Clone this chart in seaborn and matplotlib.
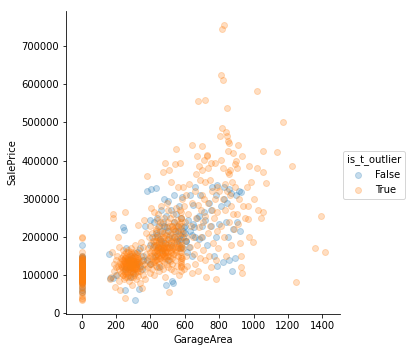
import matplotlib
matplotlib.use("Agg")
import matplotlib.pyplot as plt
from matplotlib.lines import Line2D
import pandas as pd
import seaborn as sns

# ---- data (GarageArea, SalePrice) ----
garage_true = [
    0, 0, 0, 0, 0, 0, 0, 0, 0, 0,
    0, 0, 0, 0, 0, 0, 0, 0, 0, 0,
    0, 0, 0, 0, 0, 0, 0, 0, 0, 0,
    0, 0, 0, 0, 0, 0, 0, 0, 0, 0,
    0, 0, 0, 0, 0, 0, 0, 0,
    165, 170, 178, 182, 184, 188, 190, 195, 198, 200,
    205, 208, 210, 212, 215, 218, 220, 222, 225, 228,
    230, 232, 235, 238, 240, 240, 240, 242, 245, 248,
    250, 250, 252, 252, 253, 255, 258, 260, 260, 262,
    264, 265, 268, 270, 270, 272, 275, 276, 278, 280,
    280, 282, 284, 285, 286, 288, 288, 290, 292, 294,
    295, 296, 298, 300, 300, 302, 304, 305, 308, 310,
    312, 314, 315, 318, 320, 322, 325, 326, 328, 330,
    332, 335, 338, 340, 342, 345, 348, 350, 352, 355,
    358, 360, 362, 365, 368, 370, 372, 375, 378, 380,
    385, 388, 390, 392, 395, 398, 400, 400, 402, 405,
    408, 410, 412, 415, 418, 420, 420, 422, 425, 428,
    430, 432, 434, 436, 438, 440, 440, 440, 440, 442,
    445, 446, 448, 450, 452, 454, 455, 458, 460, 460,
    462, 464, 465, 468, 470, 472, 474, 475, 476, 478,
    480, 480, 480, 482, 484, 485, 486, 488, 490, 492,
    494, 495, 496, 498, 500, 500, 502, 504, 505, 508,
    510, 510, 512, 514, 515, 518, 520, 520, 522, 525,
    526, 528, 528, 530, 532, 535, 536, 538, 540, 542,
    544, 545, 548, 550, 550, 552, 555, 556, 558, 560,
    562, 564, 565, 568, 570, 572, 574, 576, 576, 576,
    576, 576, 576, 576, 576, 576, 578, 580, 582, 585,
    588, 590, 592, 595, 598, 600, 602, 605, 608, 610,
    615, 620, 625, 630, 635, 640, 642, 645, 650, 655,
    660, 662, 665, 668, 670, 673, 675, 675, 678, 680,
    684, 686, 690, 692, 695, 698, 700, 703, 705, 708,
    711, 712, 715, 716, 718, 720, 725, 728, 731, 733,
    735, 738, 740, 745, 748, 750, 755, 758, 760, 765,
    770, 775, 778, 779, 782, 785, 788, 790, 795, 800,
    805, 808, 808, 810, 814, 816, 820, 822, 825, 828,
    831, 832, 835, 838, 840, 844, 845, 848, 850, 852,
    853, 855, 858, 860, 862, 865, 868, 870, 875, 880,
    885, 890, 895, 900, 902, 905, 907, 910, 915, 920,
    926, 930, 935, 935, 940, 948, 966, 967, 973, 975,
    985, 996, 1018, 1023, 1025, 1042, 1053, 1055, 1055, 1072,
    1135, 1169, 1224, 1248, 1355, 1390, 1418, 1000, 960, 880,
    # dense cores
    0, 0, 0, 0, 0, 0, 0, 0, 0, 0,
    0, 0, 0, 0, 0, 0, 0, 0, 0, 0,
    0, 0, 0, 0, 0, 0, 0, 0, 0, 0,
    0, 0, 0, 0, 0, 0, 0, 0, 0, 0,
    230, 235, 240, 240, 245, 250, 252, 255, 260, 264,
    265, 270, 272, 275, 276, 280, 280, 282, 285, 288,
    290, 292, 294, 295, 296, 298, 300, 300, 302, 305,
    308, 310, 312, 315, 318, 320, 322, 325, 328, 330,
    240, 250, 260, 270, 280, 290, 300, 310, 320, 280,
    264, 286, 296, 306, 316, 336, 246, 256, 276, 326,
    420, 425, 430, 432, 435, 438, 440, 440, 442, 445,
    448, 450, 452, 455, 458, 460, 462, 465, 468, 470,
    472, 475, 478, 480, 480, 480, 482, 484, 486, 488,
    490, 492, 495, 498, 500, 500, 502, 505, 508, 510,
    512, 515, 518, 520, 522, 525, 528, 530, 532, 535,
    538, 540, 542, 545, 548, 550, 552, 555, 558, 560,
    576, 576, 576, 576, 576, 576, 576, 576, 576, 576,
    400, 405, 410, 415, 418, 422, 428, 434, 444, 456,
]
price_true = [
    200000, 198000, 160000, 150000, 145000, 140000, 135000, 130000, 128000, 125000,
    120000, 118000, 115000, 112000, 110000, 108000, 105000, 102000, 100000, 98000,
    95000, 92000, 90000, 88000, 85000, 82000, 80000, 78000, 75000, 70000,
    65000, 60000, 55000, 52000, 45000, 40000, 37000, 35000, 100000, 110000,
    120000, 90000, 130000, 105000, 115000, 95000, 85000, 125000,
    90000, 95000, 160000, 259000, 250000, 130000, 110000, 70000, 120000, 140000,
    100000, 150000, 125000, 199000, 85000, 175000, 115000, 135000, 60000, 105000,
    145000, 125000, 120000, 165000, 100000, 130000, 140000, 110000, 155000, 90000,
    120000, 135000, 41000, 265000, 145000, 105000, 128000, 115000, 150000, 95000,
    138000, 125000, 110000, 142000, 160000, 100000, 130000, 118000, 85000, 150000,
    125000, 135000, 108000, 170000, 140000, 95000, 128000, 118000, 155000, 132000,
    75000, 145000, 112000, 138000, 120000, 160000, 100000, 130000, 148000, 115000,
    180000, 125000, 90000, 140000, 108000, 155000, 128000, 232000, 98000, 145000,
    118000, 165000, 135000, 80000, 110000, 150000, 188000, 125000, 65000, 140000,
    100000, 175000, 245000, 130000, 115000, 90000, 155000, 210000, 361000, 138000,
    120000, 170000, 145000, 200000, 105000, 160000, 230000, 130000, 185000, 275000,
    115000, 150000, 210000, 175000, 135000, 265000, 190000, 100000, 160000, 140000,
    220000, 125000, 180000, 155000, 245000, 165000, 140000, 200000, 120000, 175000,
    150000, 260000, 130000, 190000, 110000, 170000, 215000, 145000, 280000, 160000,
    125000, 185000, 235000, 155000, 140000, 200000, 370000, 170000, 115000, 250000,
    150000, 180000, 135000, 210000, 393000, 160000, 95000, 225000, 145000, 175000,
    290000, 130000, 195000, 160000, 240000, 120000, 185000, 150000, 270000, 375000,
    57000, 170000, 138000, 205000, 250000, 160000, 115000, 190000, 345000, 145000,
    230000, 175000, 130000, 260000, 155000, 200000, 110000, 185000, 220000, 390000,
    165000, 140000, 275000, 431000, 195000, 125000, 245000, 175000, 150000, 210000,
    330000, 100000, 235000, 180000, 160000, 270000, 395000, 120000, 140000, 160000,
    180000, 200000, 220000, 240000, 110000, 265000, 130000, 250000, 300000, 145000,
    210000, 330000, 170000, 115000, 280000, 190000, 240000, 310000, 150000, 200000,
    125000, 260000, 340000, 175000, 230000, 440000, 105000, 290000, 200000, 155000,
    320000, 130000, 250000, 365000, 180000, 411000, 556000, 110000, 285000, 385000,
    225000, 145000, 350000, 270000, 200000, 375000, 310000, 438000, 165000, 240000,
    401000, 300000, 560000, 140000, 345000, 255000, 95000, 415000, 413000, 210000,
    380000, 290000, 150000, 350000, 230000, 395000, 120000, 270000, 320000, 185000,
    250000, 300000, 395000, 89000, 140000, 215000, 330000, 265000, 170000, 320000,
    465000, 402000, 625000, 230000, 745000, 485000, 612000, 300000, 380000, 200000,
    755000, 340000, 270000, 150000, 475000, 538000, 320000, 465000, 370000, 426000,
    452000, 445000, 240000, 365000, 310000, 375000, 280000, 180000, 345000, 260000,
    220000, 390000, 330000, 400000, 380000, 260000, 440000, 235000, 300000, 185000,
    150000, 121000, 106000, 413000, 280000, 250000, 281000, 247000, 385000, 200000,
    345000, 187000, 382000, 583000, 270000, 251000, 369000, 265000, 426000, 342000,
    422000, 502000, 386000, 83000, 170000, 255000, 161000, 300000, 330000, 420000,
    # dense cores
    80000, 82000, 85000, 87000, 90000, 92000, 94000, 96000, 98000, 100000,
    101000, 103000, 105000, 107000, 109000, 111000, 113000, 115000, 117000, 119000,
    121000, 123000, 125000, 127000, 129000, 131000, 133000, 135000, 137000, 139000,
    141000, 143000, 145000, 147000, 88000, 93000, 97000, 104000, 116000, 124000,
    128000, 140000, 118000, 150000, 125000, 132000, 112000, 145000, 122000, 135000,
    105000, 128000, 148000, 115000, 138000, 120000, 132000, 155000, 110000, 140000,
    125000, 135000, 118000, 145000, 108000, 130000, 125000, 140000, 115000, 150000,
    120000, 132000, 105000, 138000, 125000, 115000, 145000, 128000, 135000, 110000,
    100000, 95000, 160000, 165000, 100000, 160000, 95000, 158000, 150000, 142000,
    142000, 128000, 122000, 136000, 118000, 130000, 138000, 125000, 131000, 140000,
    160000, 175000, 150000, 190000, 140000, 165000, 180000, 155000, 200000, 170000,
    185000, 160000, 145000, 175000, 195000, 150000, 170000, 160000, 210000, 180000,
    155000, 190000, 165000, 145000, 170000, 200000, 175000, 160000, 185000, 150000,
    205000, 165000, 180000, 150000, 175000, 215000, 160000, 195000, 140000, 230000,
    175000, 150000, 210000, 185000, 165000, 230000, 200000, 170000, 220000, 155000,
    190000, 240000, 175000, 215000, 160000, 230000, 200000, 185000, 225000, 170000,
    125000, 135000, 150000, 170000, 190000, 210000, 230000, 250000, 145000, 175000,
    150000, 130000, 165000, 145000, 190000, 135000, 200000, 215000, 225000, 240000,
]

garage_false = [
    0, 0, 0, 0, 0, 0, 0, 0, 0, 0,
    0, 0, 0, 0, 0, 0, 160, 165, 180, 200,
    240, 245, 252, 260, 270, 280, 290, 300, 310, 320,
    332, 340, 350, 360, 370, 382, 395, 400, 405, 410,
    420, 425, 430, 435, 440, 445, 450, 455, 460, 465,
    470, 475, 480, 485, 490, 492, 498, 505, 510, 520,
    525, 530, 535, 540, 545, 550, 555, 560, 565, 570,
    575, 580, 585, 590, 600, 610, 620, 625, 630, 640,
    645, 650, 655, 660, 670, 680, 690, 700, 710, 720,
    730, 740, 750, 760, 770, 780, 785, 790, 800, 810,
    820, 830, 840, 845, 850, 860, 870, 877, 880, 890,
    900, 905, 915, 920, 925, 860, 830, 780, 750, 700,
    420, 440, 460, 480, 500, 520, 540, 560, 565, 575,
    585, 590, 595, 600, 605, 615, 630, 650, 660, 680,
    250, 280, 300, 320, 340, 360, 380, 400, 450, 500,
]
price_false = [
    180000, 150000, 148000, 145000, 140000, 135000, 130000, 125000, 120000, 110000,
    100000, 90000, 80000, 70000, 60000, 55000, 155000, 92000, 92000, 100000,
    225000, 217000, 62000, 170000, 140000, 120000, 150000, 105000, 36000, 135000,
    64000, 170000, 115000, 140000, 230000, 320000, 245000, 180000, 325000, 200000,
    240000, 150000, 328000, 210000, 250000, 175000, 230000, 195000, 270000, 165000,
    215000, 240000, 300000, 185000, 75000, 255000, 225000, 295000, 200000, 270000,
    85000, 80000, 240000, 310000, 215000, 260000, 190000, 230000, 280000, 170000,
    195000, 250000, 305000, 215000, 230000, 190000, 245000, 175000, 310000, 205000,
    150000, 285000, 225000, 330000, 250000, 195000, 310000, 200000, 265000, 245000,
    180000, 290000, 230000, 330000, 150000, 310000, 335000, 125000, 235000, 280000,
    135000, 330000, 240000, 290000, 200000, 140000, 315000, 110000, 220000, 145000,
    310000, 240000, 320000, 215000, 318000, 325000, 300000, 200000, 270000, 230000,
    180000, 205000, 190000, 230000, 215000, 180000, 200000, 215000, 190000, 205000,
    175000, 200000, 225000, 210000, 190000, 160000, 215000, 235000, 200000, 255000,
    115000, 95000, 130000, 160000, 125000, 150000, 140000, 130000, 120000, 140000,
]

hue_levels = ["False", "True"]

df = pd.concat([
    pd.DataFrame({"GarageArea": garage_false, "SalePrice": price_false,
                  "is_t_outlier": "False"}),
    pd.DataFrame({"GarageArea": garage_true, "SalePrice": price_true,
                  "is_t_outlier": "True"}),
], ignore_index=True)

colors = ["#1f77b4", "#ff7f0e"]

g = sns.lmplot(data=df, x="GarageArea", y="SalePrice", hue="is_t_outlier",
               hue_order=hue_levels, palette=colors, fit_reg=False,
               legend=False, height=5, aspect=1,
               scatter_kws={"alpha": 0.25, "s": 36})

fig = g.figure
fig.set_size_inches(408 / 72, 352 / 72)
fig.subplots_adjust(left=66.3 / 408, right=340 / 408,
                    bottom=1 - 313.7 / 352, top=1 - 10.7 / 352)
ax = g.ax
ax.set_xlim(-89, 1503)
ax.set_ylim(-1100, 793000)
ax.set_xticks([0, 200, 400, 600, 800, 1000, 1200, 1400])
ax.set_yticks([0, 100000, 200000, 300000, 400000, 500000, 600000, 700000])
ax.ticklabel_format(style="plain", axis="y")

handles = [Line2D([], [], marker="o", linestyle="", color=c, alpha=0.25,
                  markersize=6) for c in colors]
fig.legend(handles, hue_levels, title="is_t_outlier", loc="center left",
           bbox_to_anchor=(338 / 408, 1 - 175 / 352), frameon=True,
           borderaxespad=0.5)

fig.savefig("out.png", dpi=72)
